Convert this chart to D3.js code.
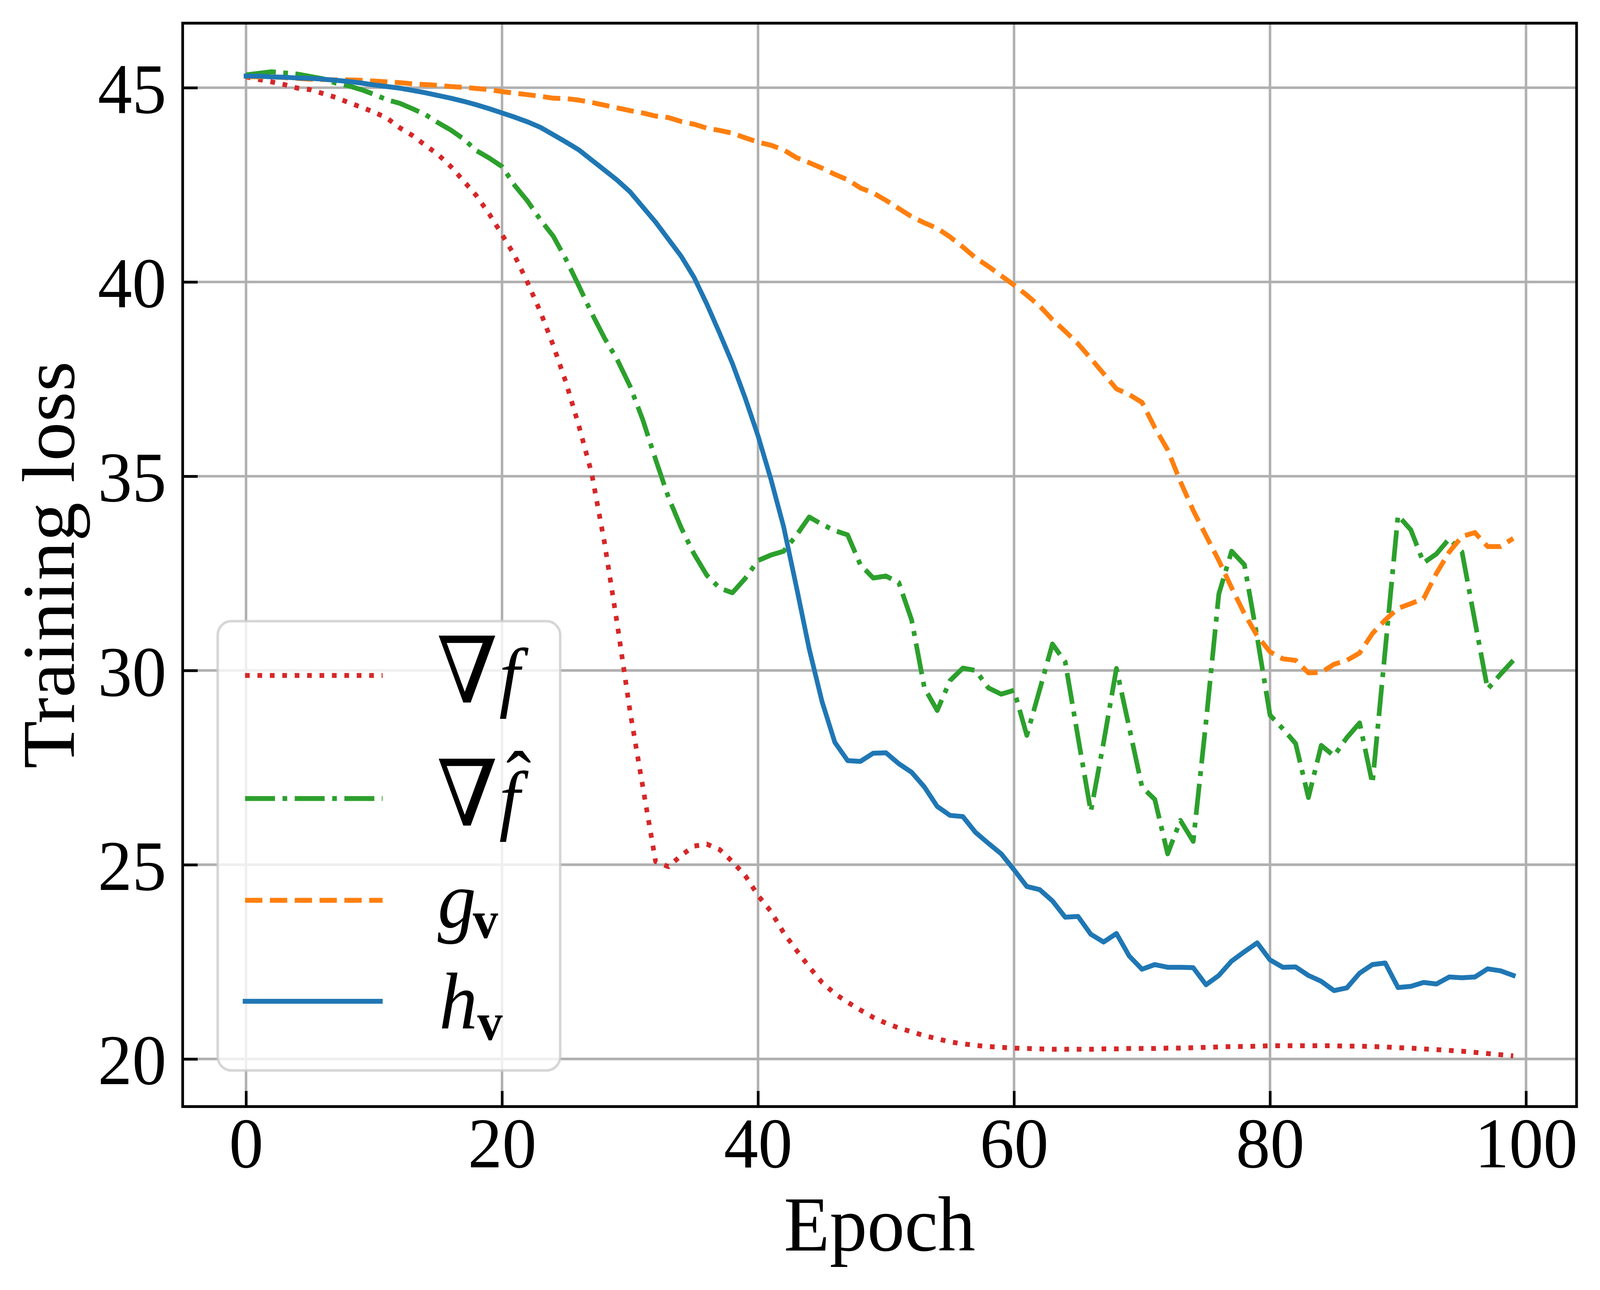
<!DOCTYPE html>
<html><head><meta charset="utf-8">
<script src="https://cdn.jsdelivr.net/npm/d3@7"></script>
<style>html,body{margin:0;padding:0;background:#fff;overflow:hidden;width:100%;height:100%;} svg{display:block;width:100vw;height:100vh;}</style>
</head><body>
<script>
// ---------------- data ----------------
const epochs = d3.range(0, 100);
const xTicks = [0, 20, 40, 60, 80, 100];
const yTicks = [20, 25, 30, 35, 40, 45];
const xLabel = "Epoch";
const yLabel = "Training loss";

const lossGradF = [
 45.28,45.21,45.15,45.08,44.99,44.95,44.85,44.75,44.62,44.50,
 44.37,44.22,43.97,43.77,43.52,43.28,42.97,42.60,42.22,41.75,
 41.22,40.67,39.98,39.23,38.37,37.41,36.30,35.08,33.30,31.20,
 28.95,27.00,25.08,24.95,25.24,25.48,25.53,25.39,25.08,24.72,
 24.21,23.80,23.25,22.80,22.37,21.97,21.68,21.46,21.26,21.07,
 20.92,20.80,20.70,20.60,20.52,20.44,20.39,20.35,20.32,20.30,
 20.28,20.27,20.26,20.25,20.25,20.25,20.25,20.26,20.26,20.27,
 20.27,20.27,20.28,20.28,20.29,20.30,20.31,20.32,20.32,20.33,
 20.34,20.34,20.34,20.34,20.34,20.34,20.33,20.33,20.32,20.31,
 20.29,20.28,20.26,20.24,20.22,20.20,20.17,20.14,20.11,20.08];

const lossGradFHat = [
 45.33,45.37,45.41,45.38,45.35,45.29,45.23,45.12,45.05,44.95,
 44.83,44.69,44.60,44.46,44.31,44.10,43.91,43.68,43.38,43.19,
 42.97,42.48,42.08,41.60,41.18,40.58,39.90,39.20,38.56,38.00,
 37.32,36.45,35.43,34.46,33.67,33.00,32.45,32.12,32.00,32.37,
 32.83,32.97,33.07,33.48,33.95,33.76,33.60,33.49,32.72,32.38,
 32.43,32.26,31.30,29.55,28.97,29.74,30.06,30.00,29.55,29.39,
 29.49,28.33,29.50,30.68,30.22,28.28,26.37,28.15,30.05,28.53,
 27.00,26.68,25.28,26.14,25.60,28.68,31.97,33.07,32.72,30.85,
 28.85,28.50,28.12,26.73,28.07,27.80,28.27,28.65,27.09,30.53,
 33.99,33.62,32.77,33.00,33.39,33.05,31.28,29.52,29.90,30.26];

const lossGV = [
 45.29,45.28,45.28,45.26,45.24,45.22,45.21,45.20,45.20,45.19,
 45.17,45.15,45.13,45.10,45.08,45.06,45.03,45.01,44.98,44.95,
 44.90,44.86,44.82,44.78,44.73,44.72,44.68,44.62,44.55,44.48,
 44.41,44.35,44.27,44.23,44.13,44.06,43.96,43.90,43.83,43.71,
 43.60,43.52,43.40,43.20,43.07,42.93,42.77,42.63,42.42,42.29,
 42.10,41.89,41.68,41.52,41.38,41.16,40.90,40.62,40.40,40.16,
 39.92,39.66,39.38,39.03,38.73,38.41,38.03,37.64,37.25,37.10,
 36.90,36.25,35.68,34.86,34.12,33.47,32.83,32.13,31.46,30.89,
 30.48,30.30,30.26,29.94,29.95,30.16,30.26,30.45,30.95,31.30,
 31.60,31.72,31.85,32.50,33.05,33.45,33.55,33.19,33.19,33.40];

const lossHV = [
 45.30,45.30,45.28,45.27,45.25,45.24,45.22,45.19,45.16,45.12,
 45.07,45.03,44.99,44.93,44.87,44.80,44.73,44.65,44.56,44.46,
 44.35,44.24,44.12,43.98,43.79,43.60,43.40,43.14,42.88,42.62,
 42.32,41.93,41.54,41.10,40.66,40.12,39.43,38.68,37.90,37.01,
 36.04,34.93,33.70,32.15,30.55,29.20,28.15,27.68,27.66,27.87,
 27.88,27.60,27.38,27.00,26.50,26.27,26.24,25.83,25.55,25.28,
 24.87,24.44,24.36,24.07,23.65,23.67,23.21,23.01,23.23,22.65,
 22.31,22.43,22.36,22.36,22.35,21.91,22.15,22.52,22.76,22.99,
 22.55,22.36,22.37,22.15,22.00,21.76,21.83,22.21,22.43,22.47,
 21.84,21.87,21.97,21.93,22.11,22.09,22.11,22.32,22.27,22.15];

// ---------------- layout / style ----------------
const W = 4270, H = 3302;
const M = {left: 487.5, right: 4207.5, top: 59.3, bottom: 2832.5};
const LW = 12.5;
const SERIF = "'Liberation Serif','Times New Roman',Times,serif";

const series = [
  {values: lossGradF,    color: "#d62728", dash: [1, 1.65]},
  {values: lossGradFHat, color: "#2ca02c", dash: [6.4, 1.6, 1, 1.6]},
  {values: lossGV,       color: "#ff7f0e", dash: [3.7, 1.6]},
  {values: lossHV,       color: "#1f77b4", dash: null}
];

const x = d3.scaleLinear().domain([-4.95, 103.95]).range([M.left, M.right]);
const y = d3.scaleLinear().domain([18.775, 46.661]).range([M.bottom, M.top]);

const svg = d3.select("body").append("svg")
  .attr("viewBox", `0 0 ${W} ${H}`).attr("preserveAspectRatio", "none");
svg.append("rect").attr("width", W).attr("height", H).attr("fill", "#fff");

svg.append("defs").append("clipPath").attr("id", "clip")
  .append("rect").attr("x", M.left).attr("y", M.top)
  .attr("width", M.right - M.left).attr("height", M.bottom - M.top);

// grid
const grid = svg.append("g").attr("stroke", "#b0b0b0").attr("stroke-width", 6.67);
grid.selectAll(".gx").data(xTicks).join("line")
  .attr("x1", d => x(d)).attr("x2", d => x(d)).attr("y1", M.top).attr("y2", M.bottom);
grid.selectAll(".gy").data(yTicks).join("line")
  .attr("y1", d => y(d)).attr("y2", d => y(d)).attr("x1", M.left).attr("x2", M.right);

// lines
const line = d3.line().x((d, i) => x(epochs[i])).y(d => y(d));
const plot = svg.append("g").attr("clip-path", "url(#clip)");
series.forEach(s => {
  plot.append("path").datum(s.values)
    .attr("d", line).attr("fill", "none")
    .attr("stroke", s.color).attr("stroke-width", LW)
    .attr("stroke-linejoin", "round")
    .attr("stroke-linecap", s.dash ? "butt" : "square")
    .attr("stroke-dasharray", s.dash ? s.dash.map(v => v * LW).join(",") : null);
});

// axes (inward ticks)
const xAxis = d3.axisBottom(x).tickValues(xTicks).tickSizeInner(-40).tickSizeOuter(0).tickPadding(0);
const yAxis = d3.axisLeft(y).tickValues(yTicks).tickSizeInner(-40).tickSizeOuter(0).tickPadding(0);
const gx = svg.append("g").attr("transform", `translate(0,${M.bottom})`).call(xAxis);
const gy = svg.append("g").attr("transform", `translate(${M.left},0)`).call(yAxis);
[gx, gy].forEach(g => {
  g.select(".domain").remove();
  g.selectAll(".tick line").attr("stroke", "#000").attr("stroke-width", 7);
  g.selectAll(".tick text").attr("fill", "#000")
    .attr("font-family", SERIF).attr("font-size", 183);
});
gx.selectAll(".tick text").attr("y", 155).attr("dy", null).attr("text-anchor", "middle");
gy.selectAll(".tick text").attr("x", -43.5).attr("dy", null).attr("y", 64).attr("text-anchor", "end");

// spines
svg.append("rect").attr("x", M.left).attr("y", M.top)
  .attr("width", M.right - M.left).attr("height", M.bottom - M.top)
  .attr("fill", "none").attr("stroke", "#000").attr("stroke-width", 7.2);

// axis labels
svg.append("text").attr("x", (M.left + M.right) / 2).attr("y", 3201)
  .attr("text-anchor", "middle").attr("font-family", SERIF).attr("font-size", 200)
  .text(xLabel);
svg.append("text").attr("transform", `translate(197,${(M.top + M.bottom) / 2}) rotate(-90)`)
  .attr("text-anchor", "middle").attr("font-family", SERIF).attr("font-size", 200)
  .text(yLabel);

// legend
const leg = svg.append("g");
leg.append("rect").attr("x", 581).attr("y", 1590).attr("width", 914).attr("height", 1150)
  .attr("rx", 36).attr("ry", 36)
  .attr("fill", "#fff").attr("fill-opacity", 0.8)
  .attr("stroke", "#cccccc").attr("stroke-opacity", 0.8).attr("stroke-width", 6.67);
const rowY = [1729, 2044, 2304.5, 2563];
series.forEach((s, i) => {
  leg.append("line").attr("x1", 654).attr("y1", rowY[i]).attr("y2", rowY[i])
    .attr("x2", s.dash ? 1021 : 1015)
    .attr("stroke", s.color).attr("stroke-width", LW)
    .attr("stroke-linecap", s.dash ? "butt" : "square")
    .attr("stroke-dasharray", s.dash ? s.dash.map(v => v * LW).join(",") : null);
});
function addText(xp, yp, str, opts) {
  const t = leg.append("text").attr("x", xp).attr("y", yp).text(str)
    .attr("font-family", opts.family || SERIF).attr("font-size", opts.size || 200)
    .attr("fill", "#000");
  if (opts.italic) t.attr("font-style", "italic");
  if (opts.bold) t.attr("font-weight", "bold");
  if (opts.anchor) t.attr("text-anchor", opts.anchor);
  return t;
}
const NABLA_FONT = "'DejaVu Serif',serif";
// ∇f
addText(1165, rowY[0] + 69, "∇", {family: NABLA_FONT, size: 235});
addText(1332, rowY[0] + 69, "f", {italic: true, size: 200});
// ∇f̂
addText(1165, rowY[1] + 69, "∇", {family: NABLA_FONT, size: 235});
addText(1332, rowY[1] + 69, "f", {italic: true, size: 200});
addText(1384, rowY[1] + 69 - 52, "ˆ", {size: 200, anchor: "middle"});
// g_v
addText(1168, rowY[2] + 69, "g", {italic: true, size: 205});
addText(1262, rowY[2] + 69 + 28, "v", {bold: true, size: 135});
// h_v
addText(1172, rowY[3] + 69, "h", {italic: true, size: 205});
addText(1274, rowY[3] + 69 + 30, "v", {bold: true, size: 135});
</script>
</body></html>
